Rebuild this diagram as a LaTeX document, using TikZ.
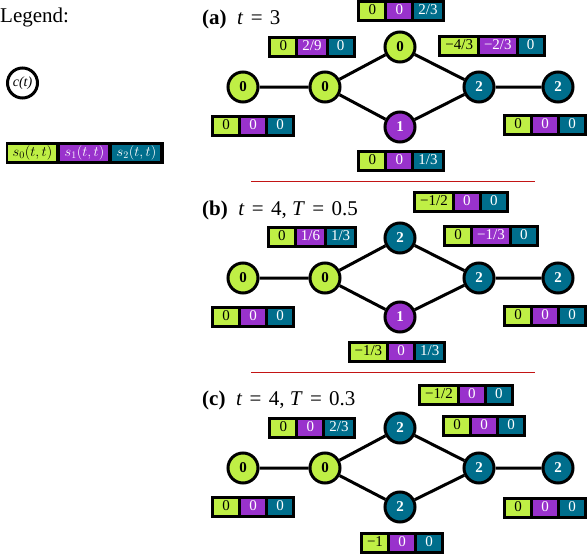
\documentclass[tikz,border=0pt]{standalone}
\usepackage{fontspec}
\setmainfont{Liberation Serif}
\definecolor{cg}{RGB}{191,239,69}
\definecolor{cp}{RGB}{153,50,204}
\definecolor{cb}{RGB}{0,110,140}
\definecolor{sepred}{RGB}{195,20,20}
\newlength\mycellw
\newcommand\mycell[4]{% min width, fill, text colour, text
  \sbox0{#4}%
  \ifdim\wd0<\dimexpr#1-8pt\relax \mycellw=#1\relax \else \mycellw=\dimexpr\wd0+8pt\relax\fi
  {\fboxsep=0pt\colorbox{#2}{\makebox[\mycellw]{\rule[-4.5pt]{0pt}{16pt}\color{#3}#4}}}}
\newcommand\trip[3]{\mycell{24pt}{cg}{black}{#1}\hspace{3pt}\mycell{24pt}{cp}{white}{#2}\hspace{3pt}\mycell{24pt}{cb}{white}{#3}}
\newcommand\eqs{\hspace{0.35em}=\hspace{0.35em}}
\tikzset{
  tripbox/.style={fill=black, inner sep=3pt, font=\fontsize{15}{15}\selectfont},
  cnode/.style={circle, draw=black, line width=3pt, minimum size=30pt, inner sep=0pt, font=\fontsize{15}{15}\selectfont\bfseries},
  gn/.style={cnode, fill=cg, text=black},
  pn/.style={cnode, fill=cp, text=white},
  bn/.style={cnode, fill=cb, text=white},
  edge/.style={line width=3pt},
  title/.style={anchor=base west, inner sep=0pt, font=\fontsize{21}{21}\selectfont},
  sep/.style={line width=1pt, draw=sepred}
}
\begin{document}
\begin{tikzpicture}[x=1pt,y=-1pt]
\useasboundingbox (0,0) rectangle (587,554);
% legend
\node[title] (leg) at (0,23) {Legend:};
\node[cnode, fill=white, font=\fontsize{14}{14}\selectfont\itshape] (legc) at (22.5,83) {c(t)};
\node[tripbox, font=\fontsize{14}{14}\selectfont] (legb) at (84.5,153) {\mycell{48pt}{cg}{black}{$s_0(t,t)$}\hspace{4pt}\mycell{48pt}{cp}{white}{$s_1(t,t)$}\hspace{4pt}\mycell{48pt}{cb}{white}{$s_2(t,t)$}};
% (a)
\node[title] (ta) at (202,24) {\textbf{(a)}\ \ \textit{t}\eqs3};
\node[gn] (a1) at (243,87) {0};
\node[gn] (a2) at (325,87) {0};
\node[gn] (a3) at (400,47) {0};
\node[pn] (a4) at (400,127) {1};
\node[bn] (a5) at (479,87) {2};
\node[bn] (a6) at (558,87) {2};
\draw[edge] (a1)--(a2) (a2)--(a3) (a2)--(a4) (a3)--(a5) (a4)--(a5) (a5)--(a6);
\node[tripbox] (ba1) at (253,126) {\trip{0}{0}{0}};
\node[tripbox] (ba2) at (312,47) {\trip{0}{2/9}{0}};
\node[tripbox] (ba3) at (401,11) {\trip{0}{0}{2/3}};
\node[tripbox] (ba4) at (401,161) {\trip{0}{0}{1/3}};
\node[tripbox] (ba5) at (492,46) {\trip{−4/3}{−2/3}{0}};
\node[tripbox] (ba6) at (545,125) {\trip{0}{0}{0}};
\draw[sep] (251,181) coordinate (s1a) -- (535,181) coordinate (s1b);
% (b)
\node[title] (tb) at (202,215) {\textbf{(b)}\ \ \textit{t}\eqs4, \textit{T}\eqs0.5};
\node[gn] (b1) at (243,278) {0};
\node[gn] (b2) at (325,278) {0};
\node[bn] (b3) at (400,238) {2};
\node[pn] (b4) at (400,317) {1};
\node[bn] (b5) at (479,278) {2};
\node[bn] (b6) at (558,278) {2};
\draw[edge] (b1)--(b2) (b2)--(b3) (b2)--(b4) (b3)--(b5) (b4)--(b5) (b5)--(b6);
\node[tripbox] (bb1) at (253,316.5) {\trip{0}{0}{0}};
\node[tripbox] (bb2) at (312,237) {\trip{0}{1/6}{1/3}};
\node[tripbox] (bb3) at (461,202) {\trip{−1/2}{0}{0}};
\node[tripbox] (bb4) at (397,352) {\trip{−1/3}{0}{1/3}};
\node[tripbox] (bb5) at (491,236) {\trip{0}{−1/3}{0}};
\node[tripbox] (bb6) at (545,316) {\trip{0}{0}{0}};
\draw[sep] (251,372) coordinate (s2a) -- (535,372) coordinate (s2b);
% (c)
\node[title] (tc) at (202,405) {\textbf{(c)}\ \ \textit{t}\eqs4, \textit{T}\eqs0.3};
\node[gn] (c1) at (243,468) {0};
\node[gn] (c2) at (325,468) {0};
\node[bn] (c3) at (400,428) {2};
\node[bn] (c4) at (400,507) {2};
\node[bn] (c5) at (479,468) {2};
\node[bn] (c6) at (558,468) {2};
\draw[edge] (c1)--(c2) (c2)--(c3) (c2)--(c4) (c3)--(c5) (c4)--(c5) (c5)--(c6);
\node[tripbox] (cb1) at (253,507) {\trip{0}{0}{0}};
\node[tripbox] (cb2) at (312,428) {\trip{0}{0}{2/3}};
\node[tripbox] (cb3) at (466,395) {\trip{−1/2}{0}{0}};
\node[tripbox] (cb4) at (402,543) {\trip{−1}{0}{0}};
\node[tripbox] (cb5) at (484,426) {\trip{0}{0}{0}};
\node[tripbox] (cb6) at (545,508) {\trip{0}{0}{0}};
\end{tikzpicture}
\end{document}
